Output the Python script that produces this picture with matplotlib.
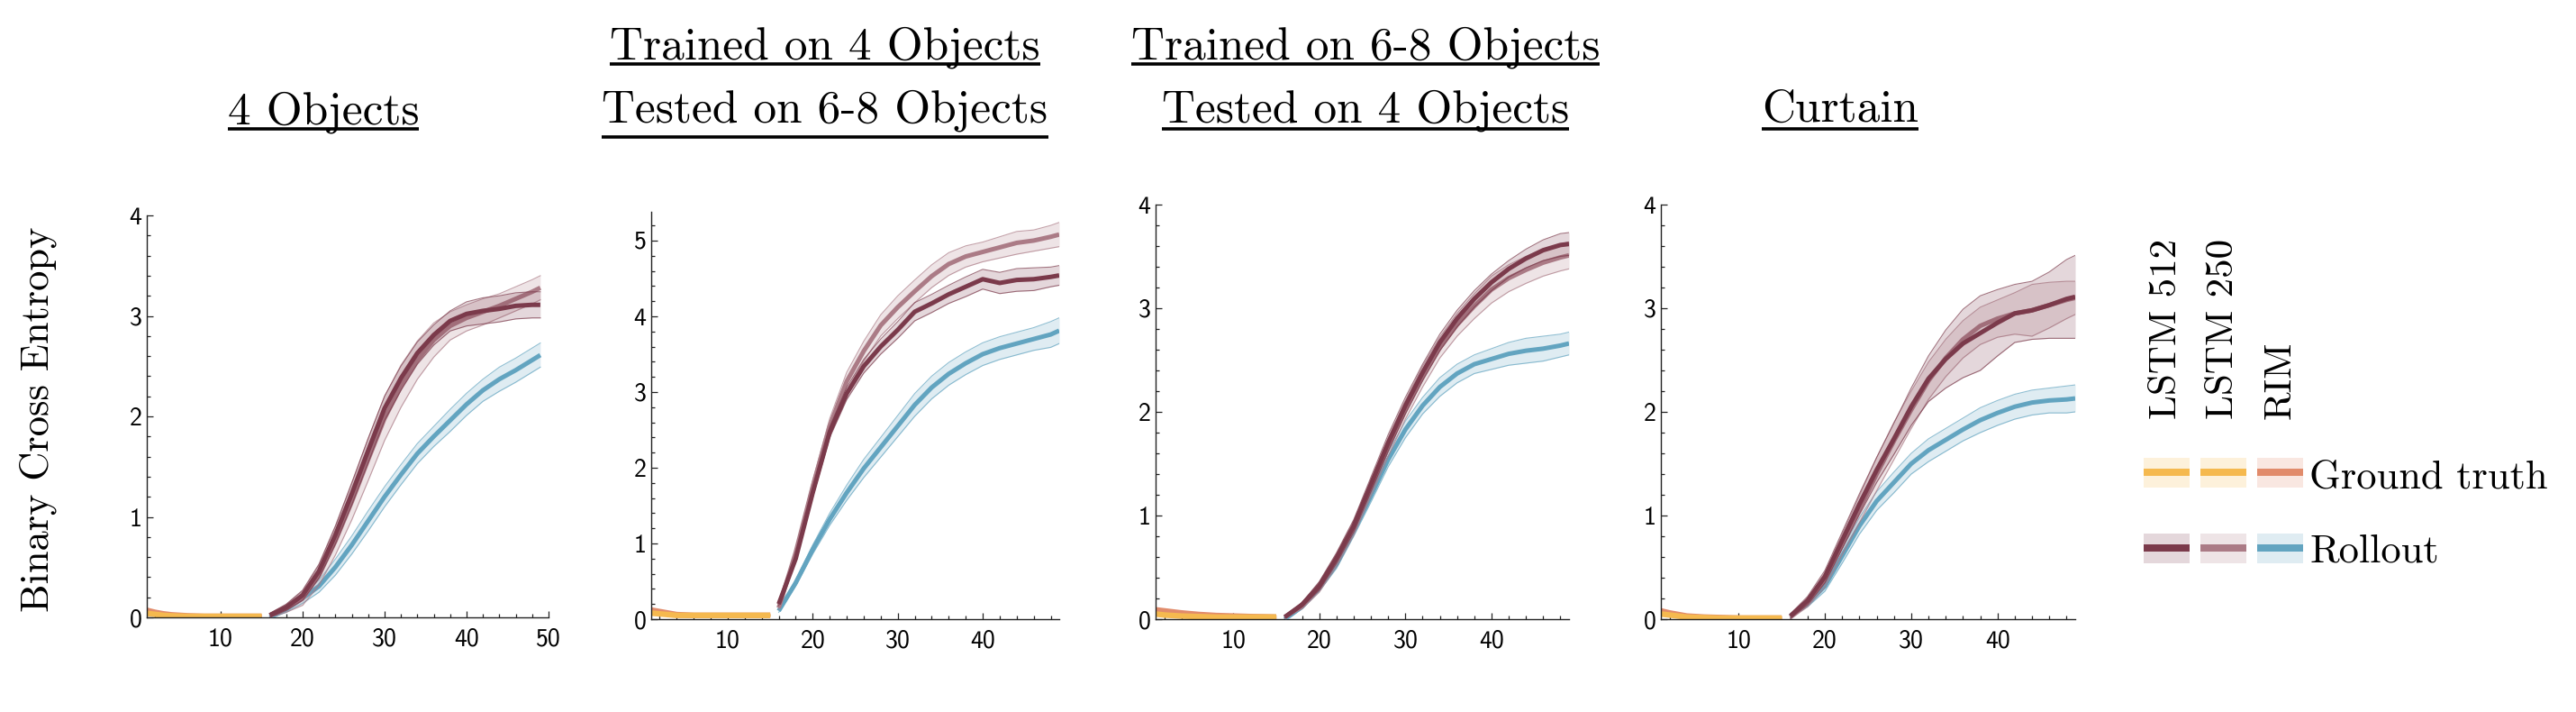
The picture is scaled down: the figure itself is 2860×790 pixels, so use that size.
import matplotlib
matplotlib.use('Agg')

import matplotlib.pyplot as plt
from matplotlib.patches import Rectangle
from matplotlib.ticker import MultipleLocator
import numpy as np

# Data
steps = [16, 18, 20, 22, 24, 26, 28, 30, 32, 34, 36, 38, 40, 42, 44, 46, 48, 49]
gt_steps = [1, 2, 3, 4, 6, 8, 10, 12, 15]

# 4 Objects
p1_lstm512 = [0.02, 0.10, 0.22, 0.46, 0.82, 1.23, 1.66, 2.08, 2.38, 2.63, 2.81, 2.95, 3.02, 3.05, 3.07, 3.10, 3.11, 3.11]
p1_lstm512_sd = [0.02, 0.03, 0.05, 0.07, 0.09, 0.11, 0.12, 0.12, 0.12, 0.11, 0.10, 0.10, 0.12, 0.13, 0.13, 0.13, 0.13, 0.13]
p1_lstm250 = [0.02, 0.09, 0.19, 0.42, 0.76, 1.15, 1.57, 1.98, 2.30, 2.56, 2.76, 2.90, 2.98, 3.04, 3.10, 3.17, 3.24, 3.28]
p1_lstm250_sd = [0.02, 0.04, 0.07, 0.10, 0.14, 0.18, 0.21, 0.22, 0.21, 0.19, 0.17, 0.14, 0.13, 0.13, 0.12, 0.12, 0.12, 0.12]
p1_rim = [0.00, 0.08, 0.19, 0.31, 0.50, 0.72, 0.96, 1.20, 1.42, 1.63, 1.80, 1.96, 2.12, 2.26, 2.37, 2.46, 2.56, 2.61]
p1_rim_sd = [0.01, 0.03, 0.05, 0.06, 0.08, 0.09, 0.10, 0.10, 0.10, 0.10, 0.10, 0.11, 0.11, 0.11, 0.12, 0.12, 0.12, 0.12]
p1_gt_lstm = [0.04, 0.03, 0.02, 0.015, 0.01, 0.01, 0.01, 0.01, 0.01]
p1_gt_rim = [0.07, 0.05, 0.035, 0.025, 0.015, 0.01, 0.01, 0.01, 0.01]

# Trained on 4 / tested on 6-8
p2_lstm512 = [0.20, 0.80, 1.67, 2.47, 2.98, 3.34, 3.60, 3.82, 4.06, 4.17, 4.29, 4.39, 4.49, 4.44, 4.48, 4.49, 4.52, 4.54]
p2_lstm512_sd = [0.02, 0.04, 0.06, 0.07, 0.08, 0.09, 0.10, 0.11, 0.12, 0.12, 0.12, 0.13, 0.13, 0.14, 0.15, 0.15, 0.13, 0.13]
p2_lstm250 = [0.15, 0.88, 1.75, 2.55, 3.14, 3.54, 3.88, 4.12, 4.33, 4.53, 4.69, 4.79, 4.85, 4.91, 4.97, 5.00, 5.05, 5.08]
p2_lstm250_sd = [0.02, 0.05, 0.08, 0.10, 0.12, 0.13, 0.14, 0.15, 0.15, 0.15, 0.15, 0.14, 0.13, 0.14, 0.15, 0.14, 0.15, 0.16]
p2_rim = [0.11, 0.48, 0.92, 1.32, 1.67, 1.99, 2.27, 2.55, 2.83, 3.06, 3.24, 3.38, 3.50, 3.58, 3.64, 3.70, 3.76, 3.81]
p2_rim_sd = [0.02, 0.04, 0.06, 0.08, 0.10, 0.12, 0.13, 0.14, 0.15, 0.15, 0.15, 0.15, 0.15, 0.15, 0.15, 0.15, 0.17, 0.17]
p2_gt_lstm = [0.08, 0.07, 0.06, 0.05, 0.05, 0.05, 0.05, 0.05, 0.05]
p2_gt_rim = [0.12, 0.10, 0.08, 0.06, 0.05, 0.05, 0.05, 0.05, 0.05]

# Trained on 6-8 / tested on 4
p3_lstm512 = [0.02, 0.14, 0.32, 0.59, 0.90, 1.30, 1.70, 2.06, 2.38, 2.67, 2.90, 3.09, 3.25, 3.38, 3.48, 3.56, 3.61, 3.62]
p3_lstm512_sd = [0.01, 0.02, 0.04, 0.05, 0.06, 0.07, 0.08, 0.08, 0.08, 0.08, 0.08, 0.08, 0.08, 0.08, 0.09, 0.10, 0.11, 0.11]
p3_lstm250 = [0.02, 0.13, 0.31, 0.57, 0.88, 1.27, 1.66, 2.02, 2.34, 2.62, 2.84, 3.02, 3.18, 3.29, 3.37, 3.44, 3.49, 3.51]
p3_lstm250_sd = [0.01, 0.03, 0.05, 0.06, 0.07, 0.08, 0.09, 0.09, 0.10, 0.10, 0.11, 0.12, 0.13, 0.13, 0.13, 0.13, 0.13, 0.13]
p3_rim = [0.00, 0.12, 0.30, 0.53, 0.85, 1.19, 1.54, 1.83, 2.06, 2.24, 2.37, 2.46, 2.51, 2.56, 2.59, 2.61, 2.64, 2.66]
p3_rim_sd = [0.01, 0.02, 0.03, 0.04, 0.05, 0.06, 0.07, 0.08, 0.08, 0.09, 0.09, 0.09, 0.10, 0.11, 0.12, 0.12, 0.11, 0.11]
p3_gt_lstm = [0.05, 0.04, 0.035, 0.03, 0.025, 0.02, 0.02, 0.02, 0.02]
p3_gt_rim = [0.09, 0.08, 0.07, 0.06, 0.045, 0.035, 0.03, 0.025, 0.02]

# Curtain
p4_lstm512 = [0.03, 0.18, 0.41, 0.76, 1.11, 1.44, 1.74, 2.05, 2.32, 2.51, 2.66, 2.76, 2.86, 2.95, 2.98, 3.03, 3.09, 3.11]
p4_lstm512_sd = [0.02, 0.04, 0.06, 0.08, 0.10, 0.12, 0.15, 0.18, 0.22, 0.28, 0.33, 0.36, 0.32, 0.28, 0.28, 0.32, 0.38, 0.40]
p4_lstm250 = [0.02, 0.16, 0.38, 0.72, 1.06, 1.40, 1.72, 2.02, 2.30, 2.52, 2.70, 2.83, 2.90, 2.95, 2.98, 3.03, 3.08, 3.10]
p4_lstm250_sd = [0.02, 0.04, 0.07, 0.10, 0.13, 0.16, 0.18, 0.18, 0.18, 0.18, 0.18, 0.18, 0.18, 0.20, 0.25, 0.22, 0.18, 0.16]
p4_rim = [0.03, 0.15, 0.32, 0.61, 0.90, 1.14, 1.32, 1.50, 1.63, 1.73, 1.83, 1.92, 1.99, 2.05, 2.09, 2.11, 2.12, 2.13]
p4_rim_sd = [0.01, 0.03, 0.05, 0.07, 0.08, 0.09, 0.10, 0.10, 0.11, 0.11, 0.11, 0.12, 0.12, 0.12, 0.12, 0.12, 0.13, 0.13]
p4_gt_lstm = [0.05, 0.04, 0.03, 0.02, 0.015, 0.01, 0.01, 0.01, 0.01]
p4_gt_rim = [0.08, 0.06, 0.045, 0.03, 0.02, 0.015, 0.01, 0.01, 0.01]

titles = [["4 Objects"],
          ["Trained on 4 Objects", "Tested on 6-8 Objects"],
          ["Trained on 6-8 Objects", "Tested on 4 Objects"],
          ["Curtain"]]
models = ["LSTM 512", "LSTM 250", "RIM"]

# colours
c_lstm512 = '#7b3a4b'
c_lstm250 = '#ab7b86'
c_rim = '#62a4c0'
c_gt = '#f5b94f'
c_gt_rim = '#e18b6b'

panels = [
    (p1_lstm512, p1_lstm512_sd, p1_lstm250, p1_lstm250_sd, p1_rim, p1_rim_sd, p1_gt_lstm, p1_gt_rim),
    (p2_lstm512, p2_lstm512_sd, p2_lstm250, p2_lstm250_sd, p2_rim, p2_rim_sd, p2_gt_lstm, p2_gt_rim),
    (p3_lstm512, p3_lstm512_sd, p3_lstm250, p3_lstm250_sd, p3_rim, p3_rim_sd, p3_gt_lstm, p3_gt_rim),
    (p4_lstm512, p4_lstm512_sd, p4_lstm250, p4_lstm250_sd, p4_rim, p4_rim_sd, p4_gt_lstm, p4_gt_rim),
]

# axes boxes in pixels: left, right, bottom, top
W, H = 2860, 790
boxes = [(163, 609, 685, 239), (723, 1176, 687, 235), (1283, 1742, 687, 227), (1844, 2304, 687, 227)]
ylims = [4.0, 5.38, 4.0, 4.0]
xmaxs = [50, 49, 49, 49]
xticks = [[10, 20, 30, 40, 50], [10, 20, 30, 40], [10, 20, 30, 40], [10, 20, 30, 40]]

fig = plt.figure(figsize=(W / 100, H / 100), dpi=100)


def band(ax, x, m, sd, color, lw=3.6, z=2):
    m = np.asarray(m)
    sd = np.asarray(sd)
    ax.fill_between(x, m - sd, m + sd, color=color, alpha=0.2, lw=0, zorder=z)
    ax.plot(x, m - sd, color=color, lw=0.8, alpha=0.7, zorder=z)
    ax.plot(x, m + sd, color=color, lw=0.8, alpha=0.7, zorder=z)
    ax.plot(x, m, color=color, lw=lw, zorder=z + 0.5, solid_capstyle='butt')


for i, (p, (l, r, b, t)) in enumerate(zip(panels, boxes)):
    ax = fig.add_axes([l / W, (H - b) / H, (r - l) / W, (b - t) / H])
    l512, s512, l250, s250, rim, srim, gt_l, gt_r = p

    gsd = [0.01] * len(gt_steps)
    band(ax, gt_steps, gt_r, gsd, c_gt_rim, lw=4.5)
    band(ax, gt_steps, gt_l, gsd, c_gt, lw=4.5)
    band(ax, steps, rim, srim, c_rim, z=3)
    band(ax, steps, l250, s250, c_lstm250, z=4)
    band(ax, steps, l512, s512, c_lstm512, z=5)

    ax.set_xlim(1, xmaxs[i])
    ax.set_ylim(0, ylims[i])
    ax.set_xticks(xticks[i])
    ax.xaxis.set_minor_locator(MultipleLocator(2))
    ax.yaxis.set_major_locator(MultipleLocator(1))
    ax.yaxis.set_minor_locator(MultipleLocator(0.2))
    ax.tick_params(which='both', direction='in', color='#222222', width=0.9)
    ax.tick_params(which='major', length=5)
    ax.tick_params(which='minor', length=3)
    ax.tick_params(axis='x', pad=8)
    ax.tick_params(axis='y', pad=4)
    for lab in ax.get_xticklabels() + ax.get_yticklabels():
        lab.set_fontfamily('cmss10')
        lab.set_fontsize(20)
    for s in ['top', 'right']:
        ax.spines[s].set_visible(False)
    for s in ['left', 'bottom']:
        ax.spines[s].set_linewidth(1.0)
        ax.spines[s].set_color('#222222')

# overlay in pixel coordinates for titles and legend
ov = fig.add_axes([0, 0, 1, 1])
ov.set_xlim(0, W)
ov.set_ylim(H, 0)
ov.axis('off')

title_x = [359, 916, 1516, 2043]
line_base = [[138], [65, 135], [65, 135], [135]]
line_ul = [[143], [71, 152], [71, 143], [143]]
title_texts = []
for i, lines in enumerate(titles):
    for j, s in enumerate(lines):
        tx = ov.text(title_x[i], line_base[i][j], s, ha='center', va='baseline',
                     fontsize=37, family='cmr10')
        title_texts.append((tx, line_ul[i][j]))

fig.text(42 / W, 1 - 465 / H, "Binary Cross Entropy", rotation=90, ha='center', va='center',
         fontsize=32, family='cmr10')

# legend grid
col_x = [2380, 2443, 2506]
cell_w = 51
cell_h = 33
rows_y = [524, 608]
row_base = [542, 623]
row_colors = [[c_gt, c_gt, c_gt_rim], [c_lstm512, c_lstm250, c_rim]]
row_names = ["Ground truth", "Rollout"]
for k, name in enumerate(models):
    ov.text(col_x[k] + cell_w / 2, 465, name, rotation=90, ha='center', va='bottom',
            fontsize=31, family='cmr10')
for rr, cy in enumerate(rows_y):
    for k in range(3):
        col = row_colors[rr][k]
        ov.add_patch(Rectangle((col_x[k], cy - cell_h / 2), cell_w, cell_h, facecolor=col,
                               alpha=0.2, lw=0))
        ov.add_patch(Rectangle((col_x[k], cy - 4), cell_w, 8, facecolor=col, lw=0))
    ov.text(2564, row_base[rr], row_names[rr], ha='left', va='baseline', fontsize=32, family='cmr10')

# underline titles
fig.canvas.draw()
rend = fig.canvas.get_renderer()
inv = ov.transData.inverted()
for tx, uy in title_texts:
    bb = tx.get_window_extent(rend)
    x0 = inv.transform((bb.x0, bb.y0))[0]
    x1 = inv.transform((bb.x1, bb.y0))[0]
    ov.plot([x0, x1], [uy, uy], color='black', lw=2.6, solid_capstyle='butt')

fig.savefig('out.png', dpi=100)
